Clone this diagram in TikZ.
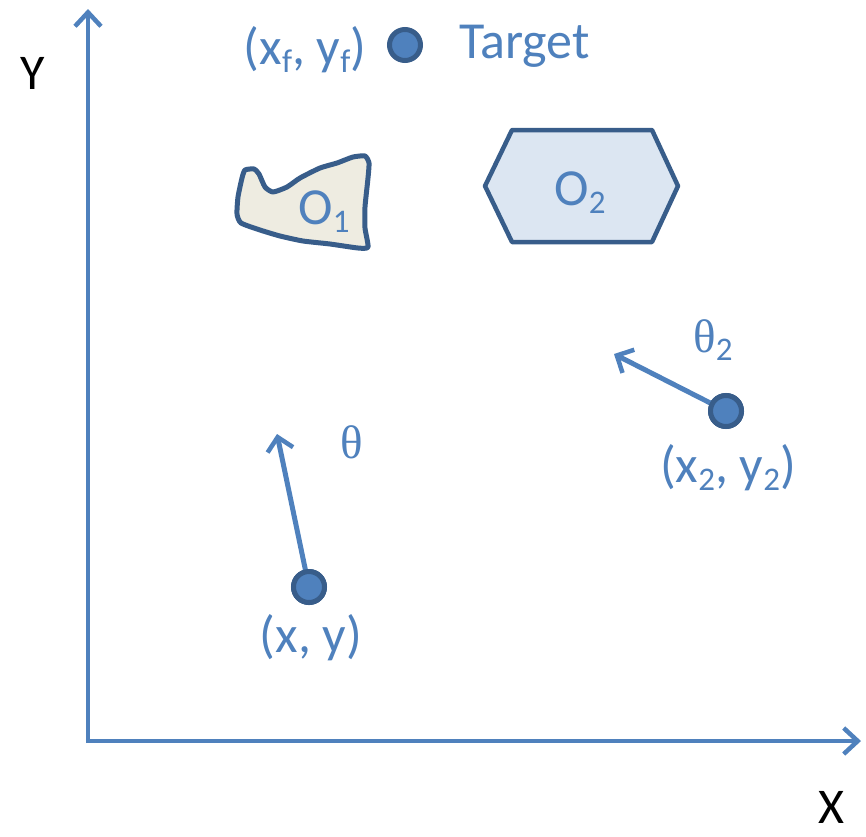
\documentclass[tikz,border=0pt]{standalone}
\usepackage{fontspec}
\setmainfont{Carlito}
\newfontfamily\thetafont{Liberation Serif}
\usetikzlibrary{arrows.meta}
\definecolor{accblue}{HTML}{4F81BD}
\definecolor{darkblue}{HTML}{385D8A}
\definecolor{obsone}{HTML}{EEECE1}
\definecolor{obstwo}{HTML}{DCE6F2}
\newcommand{\sbs}[1]{\raisebox{-8pt}{\fontsize{33}{36}\selectfont #1}}
\tikzset{
  axisline/.style={draw=accblue, line width=4.5pt, -{Straight Barb[length=14pt,width=26pt,line width=4.5pt]}},
  headingarrow/.style={draw=accblue, line width=5pt, line cap=round, -{Straight Barb[length=13pt,width=26pt,line width=4.5pt]}},
  dotnode/.style={circle, fill=accblue, draw=darkblue, line width=5pt, minimum size=31pt, inner sep=0pt},
  lbl/.style={text=accblue, font=\fontsize{52}{60}\selectfont, inner sep=0pt},
  axlbl/.style={text=black, font=\fontsize{50}{58}\selectfont, inner sep=0pt},
  thlbl/.style={text=accblue, font=\fontsize{47}{54}\selectfont\thetafont, inner sep=0pt},
}
\begin{document}
\begin{tikzpicture}[x=1pt,y=-1pt]
\useasboundingbox (0,0) rectangle (866,836);
% axes
\coordinate (origin) at (88,741);
\coordinate (ytip) at (88,9);
\coordinate (xtip) at (861,741);
\draw[axisline] ([yshift=-2.2pt]origin) -- (ytip);
\draw[axisline] ([xshift=-2.2pt]origin) -- (xtip);
\node[axlbl] (ylabel) at (33,73) {Y};
\node[axlbl] (xlabel) at (831,807) {X};
% target
\node[dotnode] (target) at (405,45) {};
\node[lbl] (targetxy) at (305,50) {(x\sbs{f}, y\sbs{f})};
\node[lbl, anchor=west] (targetlbl) at (459,46) {Target};
% obstacle 1
\draw[draw=darkblue, fill=obsone, line width=5pt, line join=round]
  plot[smooth cycle, tension=0.35] coordinates {
   (245,170) (254,169) (259,174) (265,187) (273,192) (287,187) (300,178)
   (320,168) (337,163) (353,157) (365,156) (369,163) (368,178) (365,207)
   (365,228) (368,247) (358,248) (330,244) (303,241) (280,236) (260,230)
   (241,223) (237,214) (238,197) (242,178)};
\node[lbl] (o1) at (324,212) {O\sbs{1}};
% obstacle 2
\draw[draw=darkblue, fill=obstwo, line width=4.5pt, line join=round]
  (485,186) -- (512,130) -- (652,130) -- (678,186) -- (652,242) -- (512,242) -- cycle;
\node[lbl] (o2) at (580,193) {O\sbs{2}};
% robot 1
\coordinate (r1tip) at (277,434);
\node[dotnode] (r1) at (309,587) {};
\draw[headingarrow] (r1.center) -- (r1tip);
\node[dotnode] at (r1) {};
\node[thlbl] (th1) at (352,442) {θ};
\node[lbl] (r1xy) at (311,638) {(x, y)};
% robot 2
\coordinate (r2tip) at (614,354);
\node[dotnode] (r2) at (726,411) {};
\draw[headingarrow] (r2.center) -- (r2tip);
\node[dotnode] at (r2) {};
\node[thlbl] (th2) at (713,340) {θ\sbs{\fontspec{Carlito}2}};
\node[lbl] (r2xy) at (728,468) {(x\sbs{2}, y\sbs{2})};
\end{tikzpicture}
\end{document}
